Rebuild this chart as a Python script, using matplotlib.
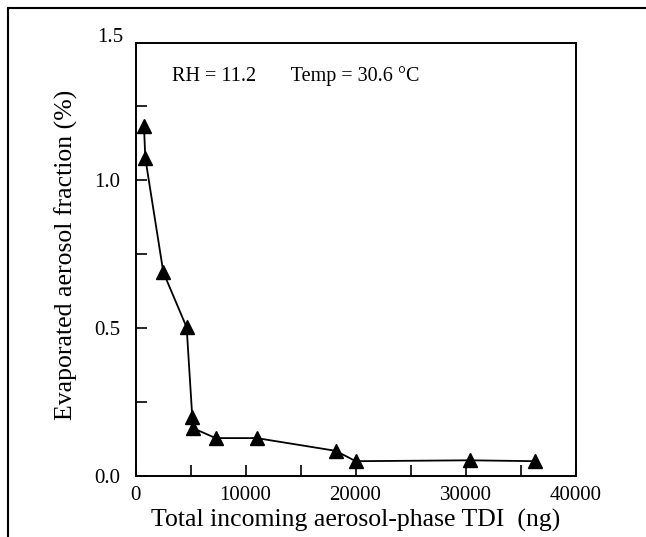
import matplotlib
matplotlib.use("Agg")
import matplotlib.pyplot as plt
from matplotlib.lines import Line2D
from matplotlib.ticker import MultipleLocator

tdi_ng = [770, 890, 2530, 4650, 5160, 5260, 7290, 11020, 18200, 20020, 30410, 36350]
evap_pct = [1.183, 1.074, 0.688, 0.502, 0.200, 0.161, 0.128, 0.128, 0.085, 0.050, 0.053, 0.050]
x_ticks = [0, 10000, 20000, 30000, 40000]
y_ticks = [0.0, 0.5, 1.0]
y_top_label = 1.5

plt.rcParams['font.family'] = ['Liberation Serif', 'DejaVu Serif']

fig = plt.figure(figsize=(6.46, 5.37), dpi=100)
ax = fig.add_axes([135.5/646, (537-476)/537, (575.5-135.5)/646, (476-42.5)/537])

ax.plot(tdi_ng, evap_pct, color='black', lw=1.3, marker='^', ms=10.5,
        markerfacecolor='black', markeredgecolor='black', zorder=3, clip_on=False)

ax.set_xlim(0, 40000)
ax.set_ylim(0, 1.464)
ax.set_xticks(x_ticks)
ax.set_xticklabels([str(v) for v in x_ticks])
ax.set_yticks(y_ticks)
ax.set_yticklabels([f"{v:.1f}" for v in y_ticks])
ax.xaxis.set_minor_locator(MultipleLocator(5000))
ax.yaxis.set_minor_locator(MultipleLocator(0.25))
ax.tick_params(which='both', direction='in', top=False, right=False, labelsize=15,
               width=1.2)
ax.tick_params(axis='y', pad=11)
ax.tick_params(axis='x', pad=7)
ax.tick_params(which='major', length=8)
ax.tick_params(which='minor', length=8)
for s in ax.spines.values():
    s.set_linewidth(1.4)

ax.text(-0.027, 1.48, f"{y_top_label:.1f}", transform=ax.get_yaxis_transform(),
        ha='right', va='center', fontsize=15, clip_on=False)

ax.set_xlabel("Total incoming aerosol-phase TDI  (ng)", fontsize=18.5)
ax.xaxis.set_label_coords(0.5, -0.077)
ax.xaxis.label.set_va('top')
ax.set_ylabel("Evaporated aerosol fraction (%)", fontsize=18.5)
ax.yaxis.set_label_coords(-0.13, 0.51)

ax.text(0.084, 0.923, "RH = 11.2       Temp = 30.6 \u00b0C", transform=ax.transAxes,
        fontsize=14.5, ha='left', va='center')

# outer frame lines (top and left)
fig.add_artist(Line2D([8/646, 1.0], [1 - 8/537, 1 - 8/537], color='black', lw=1.5,
                      transform=fig.transFigure))
fig.add_artist(Line2D([8/646, 8/646], [0.0, 1 - 8/537], color='black', lw=1.5,
                      transform=fig.transFigure))

fig.savefig("out.png", dpi=100)
